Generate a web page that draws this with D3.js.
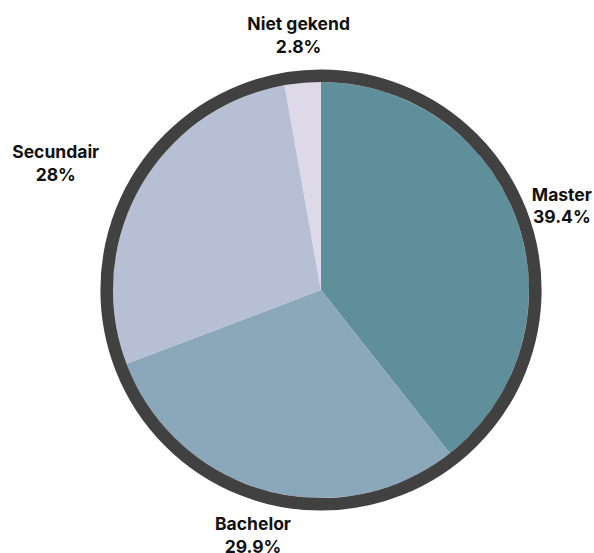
<!DOCTYPE html>
<html>
<head>
<meta charset="utf-8">
<script src="https://cdn.jsdelivr.net/npm/d3@7"></script>
<style>
  html, body { margin: 0; padding: 0; background: #ffffff; }
  svg { display: block; }
  text { font-family: "Inter", "Open Sans", sans-serif; font-weight: 700; fill: #111111; }
</style>
</head>
<body>
<svg id="chart" width="594" height="553"></svg>
<script>
const categories = ["Master", "Bachelor", "Secundair", "Niet gekend"];
const values = [39.4, 29.9, 28, 2.8];
const valueLabels = ["39.4%", "29.9%", "28%", "2.8%"];
const colors = ["#5f8f9b", "#8ba7ba", "#b6bfd3", "#ddd9e8"];

const width = 594, height = 553;
const cx = 321, cy = 290;
const pieR = 208;
const ringW = 12.6;
const ringR = pieR + ringW / 2;
const labelR = 255;
const fontSize = 17.5;
const lineGap = 22.6;

const svg = d3.select("#chart");
const g = svg.append("g").attr("transform", `translate(${cx},${cy})`);

const data = categories.map((c, i) => ({ name: c, value: values[i], label: valueLabels[i], color: colors[i] }));

const pie = d3.pie().value(d => d.value).sort(null);
const arcs = pie(data);
const arc = d3.arc().innerRadius(0).outerRadius(pieR);
const labelArc = d3.arc().innerRadius(labelR).outerRadius(labelR);

g.selectAll("path.slice")
  .data(arcs)
  .join("path")
  .attr("class", "slice")
  .attr("d", arc)
  .attr("fill", d => d.data.color);

g.append("circle")
  .attr("r", ringR)
  .attr("fill", "none")
  .attr("stroke", "#414141")
  .attr("stroke-width", ringW);

const labels = g.selectAll("text.lbl")
  .data(arcs)
  .join("text")
  .attr("class", "lbl")
  .attr("font-size", fontSize)
  .attr("text-anchor", "middle");

labels.each(function(d) {
  const [x, y] = labelArc.centroid(d);
  const t = d3.select(this);
  const s1 = t.append("tspan").attr("x", x).attr("y", y - 5.8).text(d.data.name);
  const s2 = t.append("tspan").attr("x", x).attr("y", y - 5.8 + lineGap).text(d.data.label);
  // if a centered label would overlap the pie, push it sideways away from the circle
  const bb = this.getBBox();
  const nx = Math.max(bb.x, Math.min(0, bb.x + bb.width));
  const ny = Math.max(bb.y, Math.min(0, bb.y + bb.height));
  if (Math.hypot(nx, ny) < pieR + 6) {
    const shift = (x < 0 ? -1 : 1) * bb.width / 2;
    s1.attr("x", x + shift);
    s2.attr("x", x + shift);
  }
});
</script>
</body>
</html>
